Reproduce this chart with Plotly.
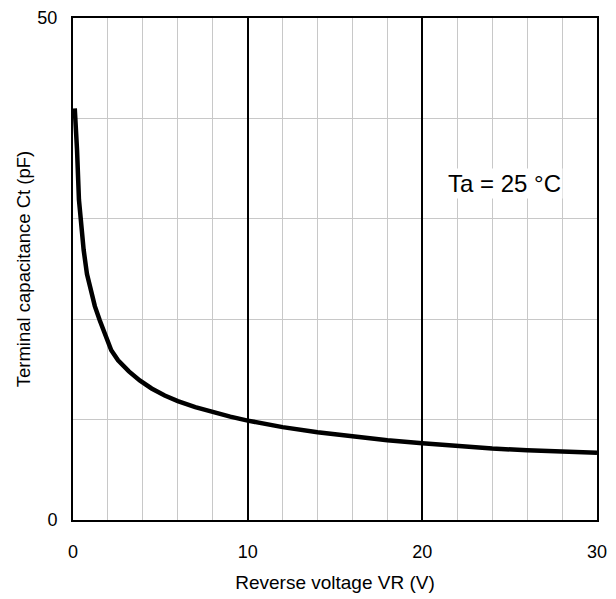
import plotly.graph_objects as go

vr = [0.1, 0.13, 0.23, 0.34, 0.47, 0.61, 0.8, 1.01, 1.25, 1.53, 1.85, 2.19, 2.58, 3.2, 3.82, 4.5, 5.25, 6.0, 7.0, 8.0, 9.0, 10.0, 12.0, 14.0, 16.0, 18.0, 20.0, 22.0, 24.0, 26.0, 28.0, 30.0]
ct = [41.0, 39.3, 36.9, 31.9, 29.4, 26.9, 24.5, 22.9, 21.3, 19.9, 18.4, 16.9, 15.9, 14.8, 13.9, 13.1, 12.4, 11.85, 11.25, 10.75, 10.3, 9.9, 9.25, 8.75, 8.3, 7.95, 7.65, 7.35, 7.12, 6.95, 6.8, 6.7]

x_ticks = [0, 10, 20, 30]
y_ticks = [0, 50]

fig = go.Figure()
fig.add_trace(go.Scatter(x=vr, y=ct, mode="lines",
                         line=dict(color="black", width=4.5),
                         showlegend=False, hoverinfo="skip"))

fig.add_annotation(x=24.7, y=33.5, text="Ta = 25 °C", showarrow=False,
                   font=dict(size=24, color="black"), bgcolor="white")

fig.update_layout(
    width=616, height=599,
    margin=dict(l=73, r=19, t=18, b=79, autoexpand=False),
    paper_bgcolor="white", plot_bgcolor="white",
    font=dict(family="Liberation Sans, Arial, sans-serif", size=18, color="black"),
    xaxis=dict(range=[0, 30], tickvals=x_ticks, showgrid=True, gridcolor="black", gridwidth=2,
               minor=dict(tickmode="linear", tick0=0, dtick=2, showgrid=True, gridcolor="#c8c8c8", gridwidth=1, ticks=""),
               showline=True, linecolor="black", linewidth=2, mirror=True, zeroline=False,
               ticks="", ticklabelstandoff=14, tickfont=dict(size=18), automargin=False,
               title=dict(text="Reverse voltage VR (V)", font=dict(size=19), standoff=15)),
    yaxis=dict(range=[0, 50], tickvals=y_ticks, showgrid=False,
               minor=dict(tickmode="linear", tick0=0, dtick=10, showgrid=True, gridcolor="#c8c8c8", gridwidth=1, ticks=""),
               showline=True, linecolor="black", linewidth=2, mirror=True, zeroline=False,
               ticks="", ticklabelstandoff=10, tickfont=dict(size=18), automargin=False,
               title=dict(text="Terminal capacitance Ct (pF)", font=dict(size=18.5), standoff=2)),
)
fig.write_html("out.html")
